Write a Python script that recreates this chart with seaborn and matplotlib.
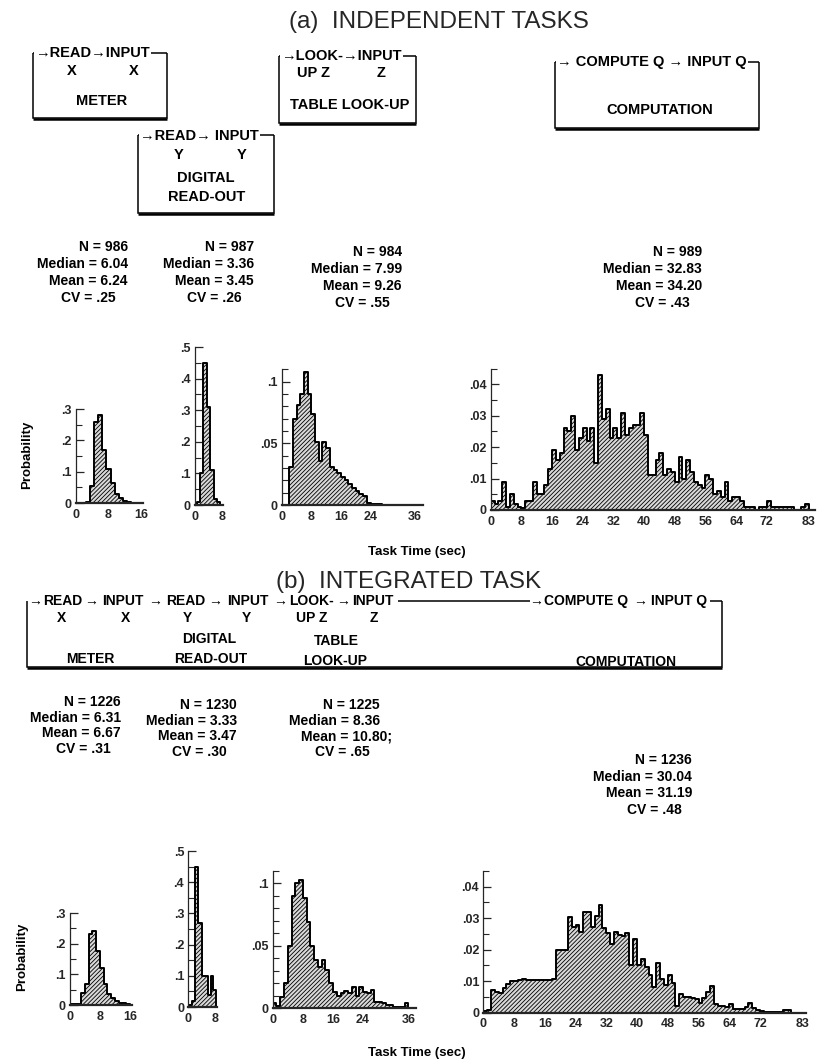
import numpy as np
import pandas as pd
import matplotlib
matplotlib.use("Agg")
import matplotlib.pyplot as plt
import seaborn as sns
from matplotlib.ticker import FixedLocator, MultipleLocator

sns.set_theme(style="ticks")
plt.rcParams["font.family"] = ["Liberation Sans", "DejaVu Sans"]
plt.rcParams["hatch.linewidth"] = 0.6
plt.rcParams["hatch.color"] = "black"

# ------------------------------------------------------------------ data
# probability per bin (1-s bins unless edges given)
a_meter_start = 2.5
a_meter = [0.004, 0.055, 0.26, 0.28, 0.17, 0.11, 0.065, 0.028, 0.016, 0.006, 0.002]
a_digital_start = 0.5
a_digital = [0.008, 0.10, 0.45, 0.31, 0.11, 0.02, 0.008]
a_table_start = 2
a_table = [0.031, 0.070, 0.081, 0.090, 0.108, 0.090, 0.074, 0.051, 0.036, 0.051,
           0.046, 0.031, 0.028, 0.026, 0.023, 0.020, 0.017, 0.014, 0.011, 0.009,
           0.007, 0.002, 0.001, 0.001, 0.001]
a_comp_start = 0
a_comp = [0.003, 0.002, 0.003, 0.009, 0.001, 0.005, 0.002, 0.001, 0.0005, 0.003,
          0.003, 0.009, 0.005, 0.005, 0.008, 0.013, 0.019, 0.016, 0.018, 0.026,
          0.025, 0.030, 0.019, 0.023, 0.026, 0.022, 0.026, 0.015, 0.043, 0.029,
          0.032, 0.023, 0.026, 0.023, 0.031, 0.024, 0.026, 0.027, 0.027, 0.031,
          0.024, 0.011, 0.011, 0.016, 0.018, 0.011, 0.013, 0.012, 0.009, 0.017,
          0.010, 0.016, 0.012, 0.009, 0.008, 0.007, 0.011, 0.010, 0.005, 0.006,
          0.004, 0.009, 0.003, 0.004, 0.004, 0.003, 0.001, 0.001, 0.001, 0.0,
          0.001, 0.001, 0.003, 0.001, 0.001, 0.001, 0.001, 0.001, 0.001, 0.0,
          0.0, 0.001, 0.002]

b_meter_start = 0
b_meter = [0.002, 0.002, 0.003, 0.04, 0.07, 0.23, 0.24, 0.175, 0.12, 0.07,
           0.035, 0.022, 0.012, 0.008, 0.005, 0.003]
b_digital_edges = [0, 1, 2, 3, 4, 5, 6, 6.7, 7.3, 8.3]
b_digital = [0.005, 0.02, 0.45, 0.27, 0.10, 0.10, 0.04, 0.10, 0.055]
b_table_start = 0
b_table = [0.004, 0.002, 0.009, 0.020, 0.050, 0.090, 0.100, 0.103, 0.088, 0.069,
           0.050, 0.039, 0.033, 0.039, 0.031, 0.020, 0.013, 0.010, 0.012, 0.014,
           0.012, 0.017, 0.010, 0.017, 0.013, 0.012, 0.015, 0.005, 0.005, 0.004,
           0.003, 0.003, 0.001, 0.001, 0.001, 0.004]
b_comp_start = 0
b_comp = [0.0005, 0.001, 0.0072, 0.0065, 0.0063, 0.0077, 0.0090, 0.0100, 0.0102, 0.0104,
          0.0106, 0.0104, 0.0105, 0.0103, 0.0104, 0.0104, 0.0103, 0.0105, 0.0106, 0.0199,
          0.0199, 0.0200, 0.0303, 0.0273, 0.0280, 0.0257, 0.0320, 0.0320, 0.0273, 0.0307,
          0.0342, 0.0268, 0.0252, 0.0218, 0.0255, 0.0247, 0.0243, 0.0252, 0.0151, 0.0233,
          0.0151, 0.0169, 0.0146, 0.0120, 0.0083, 0.0159, 0.0106, 0.0088, 0.0120, 0.0095,
          0.0021, 0.0059, 0.0051, 0.0050, 0.0048, 0.0042, 0.0032, 0.0046, 0.0067, 0.0085,
          0.0028, 0.0021, 0.0021, 0.0017, 0.0028, 0.0011, 0.0012, 0.0011, 0.0019, 0.0032,
          0.0014, 0.0008, 0.0005, 0.0002, 0.0002, 0.0002, 0.0002, 0.0002, 0.0010, 0.0010,
          0.0, 0.0, 0.0]

a_stats = [["N = 986", "Median = 6.04", "Mean = 6.24", "CV = .25"],
           ["N = 987", "Median = 3.36", "Mean = 3.45", "CV = .26"],
           ["N = 984", "Median = 7.99", "Mean = 9.26", "CV = .55"],
           ["N = 989", "Median = 32.83", "Mean = 34.20", "CV = .43"]]
b_stats = [["N = 1226", "Median = 6.31", "Mean = 6.67", "CV = .31"],
           ["N = 1230", "Median = 3.33", "Mean = 3.47", "CV = .30"],
           ["N = 1225", "Median = 8.36", "Mean = 10.80;", "CV = .65"],
           ["N = 1236", "Median = 30.04", "Mean = 31.19", "CV = .48"]]

ticks_small_y = [0, 0.1, 0.2, 0.3]
ticks_dig_y = [0, 0.1, 0.2, 0.3, 0.4, 0.5]
ticks_table_y = [0, 0.05, 0.1]
ticks_comp_y = [0, 0.01, 0.02, 0.03, 0.04]
ticks_meter_x = [0, 8, 16]
ticks_dig_x = [0, 8]
ticks_table_x = [0, 8, 16, 24, 36]
ticks_comp_x = [0, 8, 16, 24, 32, 40, 48, 56, 64, 72, 83]

# ------------------------------------------------------------------ figure
W, H = 829, 1060
fig = plt.figure(figsize=(W / 100, H / 100), dpi=100)
ov = fig.add_axes([0, 0, 1, 1])
ov.set_xlim(0, W)
ov.set_ylim(H, 0)
ov.axis("off")

BOLD = dict(fontweight="bold", color="black")
TICKFS = 9


def ylab(v):
    if v == 0:
        return "0"
    s = ("%.2f" % v).rstrip("0")
    return s[1:] if s.startswith("0") else s


def panel(x0, xa, xv, y0, ya, yv, xmax, ymax, vals, start=None, edges=None,
          yticks=(), ytick_minor=0.05, xticks=()):
    sx = (xa - x0) / xv
    sy = (y0 - ya) / yv
    left, right = x0, x0 + xmax * sx
    top = y0 - ymax * sy
    ax = fig.add_axes([left / W, 1 - y0 / H, (right - left) / W, (y0 - top) / H])
    if edges is None:
        edges = [float(start + i) for i in range(len(vals) + 1)]
    edges = [float(e) for e in edges]
    centers = [(edges[i] + edges[i + 1]) / 2 for i in range(len(vals))]
    df = pd.DataFrame({"t": centers, "p": [float(v) for v in vals]})
    sns.histplot(data=df, x="t", weights="p", bins=edges, element="step", fill=True,
                 stat="count", ax=ax, color="black", alpha=1, linewidth=1.3)
    for c in ax.collections:
        c.set_facecolor("#d9d9d9")
        c.set_edgecolor("black")
        c.set_hatch("////////")
        c.set_linewidth(1.4)
    ax.set_xlim(0, xmax)
    ax.set_ylim(0, ymax)
    ax.set_xlabel("")
    ax.set_ylabel("")
    for s in ("top", "right"):
        ax.spines[s].set_visible(False)
    ax.spines["left"].set_linewidth(0.9)
    ax.spines["bottom"].set_linewidth(1.6)
    ax.patch.set_alpha(0)
    ax.yaxis.set_major_locator(FixedLocator(list(yticks)))
    ax.yaxis.set_minor_locator(MultipleLocator(ytick_minor))
    ax.set_yticklabels([ylab(v) for v in yticks], fontsize=TICKFS, fontweight="bold")
    ax.xaxis.set_major_locator(FixedLocator(list(xticks)))
    ax.set_xticklabels([str(v) for v in xticks], fontsize=TICKFS, fontweight="bold")
    ax.tick_params(axis="y", which="major", direction="in", length=6, width=0.9, pad=3)
    ax.tick_params(axis="y", which="minor", direction="in", length=4, width=0.8)
    ax.tick_params(axis="x", which="both", length=0, pad=4)
    ax.grid(False)
    return ax


# (a) panels
panel(76, 141, 16, 503, 409, 0.3, 16.6, 0.3, a_meter, start=a_meter_start,
      yticks=ticks_small_y, ytick_minor=0.05, xticks=ticks_meter_x)
panel(195, 222, 8, 505, 347, 0.5, 8.3, 0.5, a_digital, start=a_digital_start,
      yticks=ticks_dig_y, ytick_minor=0.05, xticks=ticks_dig_x)
panel(281.7, 415, 36, 505, 443.3, 0.05, 38.2, 0.11, a_table, start=a_table_start,
      yticks=ticks_table_y, ytick_minor=0.01, xticks=ticks_table_x)
panel(490.7, 809, 83, 510, 384.3, 0.04, 84.5, 0.045, a_comp, start=a_comp_start,
      yticks=ticks_comp_y, ytick_minor=0.005, xticks=ticks_comp_x)

# (b) panels
panel(70, 130, 16, 1005, 913, 0.3, 16.6, 0.3, b_meter, start=b_meter_start,
      yticks=ticks_small_y, ytick_minor=0.05, xticks=ticks_meter_x)
panel(188.3, 215, 8, 1007, 851, 0.5, 8.5, 0.5, b_digital, edges=b_digital_edges,
      yticks=ticks_dig_y, ytick_minor=0.05, xticks=ticks_dig_x)
panel(272.7, 408.3, 36, 1008.3, 883.3, 0.1, 38, 0.11, b_table, start=b_table_start,
      yticks=ticks_table_y, ytick_minor=0.01, xticks=ticks_table_x)
panel(483.3, 760, 72, 1012.7, 886.7, 0.04, 84, 0.045, b_comp, start=b_comp_start,
      yticks=ticks_comp_y, ytick_minor=0.005, xticks=ticks_comp_x)

# ------------------------------------------------------------------ text & boxes
ov.text(289, 22, "(a)  INDEPENDENT TASKS", ha="left", va="center", fontsize=17.5)
ov.text(276, 582, "(b)  INTEGRATED TASK", ha="left", va="center", fontsize=17.5)

BOXFS = 10.5
WB = dict(facecolor="white", edgecolor="none", pad=1.0)


def line(xs, ys, lw=1.1):
    ov.plot(xs, ys, color="black", lw=lw, solid_joinstyle="miter",
            solid_capstyle="butt", zorder=1)


def box(x0, y0, x1, y1, top=True):
    if top:
        line([x0, x1], [y0, y0])
    line([x0, x0, x1, x1], [y0, y1, y1, y0])
    line([x0, x1], [y1 + 0.5, y1 + 0.5], lw=1.8)


def t(x, y, s, ha="center", fs=BOXFS, bg=False, **kw):
    return ov.text(x, y, s, ha=ha, va="center", fontsize=fs, zorder=3,
                   bbox=WB if bg else None, **BOLD, **kw)


box(33, 53, 167, 118)
t(35, 53, "\u2192READ\u2192INPUT", ha="left", bg=True)
t(72, 71, "X"); t(134, 71, "X")
t(102, 101, "METER")

box(279, 56, 416, 123)
t(281, 56, "\u2192LOOK-\u2192INPUT", ha="left", bg=True)
t(314, 73, "UP Z"); t(381, 73, "Z")
t(350, 105, "TABLE LOOK-UP")

box(555, 62, 759, 128)
t(557, 62, "\u2192 COMPUTE Q \u2192 INPUT Q", ha="left", bg=True)
t(660, 110, "COMPUTATION")

box(138, 135, 274, 213)
t(140, 136, "\u2192READ\u2192 INPUT", ha="left", bg=True)
t(179, 155, "Y"); t(242, 155, "Y")
t(206, 178, "DIGITAL")
t(207, 197, "READ-OUT")

# (b) integrated task flow box
box(27, 601, 722, 667, top=False)
line([398, 530], [601, 601])
line([710, 722], [601, 601])
BFS = 10
for x, s in [(28, "\u2192"), (43, "READ"), (84, "\u2192"), (102, "INPUT"),
             (148, "\u2192"), (166, "READ"), (208, "\u2192"), (227, "INPUT"),
             (273, "\u2192"), (289, "LOOK-"), (336, "\u2192"), (352, "INPUT"),
             (529, "\u2192"), (544, "COMPUTE Q"), (633, "\u2192"), (651, "INPUT Q")]:
    t(x, 601, s, ha="left", fs=BFS)
for x, s in [(62, "X"), (126, "X"), (187, "Y"), (246, "Y"), (312, "UP Z"), (374, "Z")]:
    t(x, 618, s, fs=BFS)
t(209, 639, "DIGITAL", fs=BFS); t(336, 641, "TABLE", fs=BFS)
t(90, 659, "METER", fs=BFS); t(211, 659, "READ-OUT", fs=BFS)
t(335, 661, "LOOK-UP", fs=BFS)
t(626, 662, "COMPUTATION", fs=BFS)

STATFS = 10
for R, y0, lines in zip([128, 254, 402, 702], [247, 247, 252, 252], a_stats):
    for i, s in enumerate(lines[:3]):
        t(R, y0 + i * 17, s, ha="right", fs=STATFS)
    t(R - 40, y0 + 3 * 17, lines[3], fs=STATFS)
for R, y0, lines in zip([121, 237, 380, 692], [702, 705, 705, 760], b_stats):
    sp = 16.7 if y0 == 760 else 15.7
    for i, s in enumerate(lines[:3]):
        t(R + (12 if s.endswith(";") else 0), y0 + i * sp, s, ha="right", fs=STATFS)
    t(R - 38, y0 + 3 * sp, lines[3], fs=STATFS)

t(27, 455, "Probability", fs=9.5, rotation=90)
t(22, 957, "Probability", fs=9.5, rotation=90)
t(417, 552, "Task Time (sec)", fs=9.5)
t(417, 1053, "Task Time (sec)", fs=9.5)

fig.savefig("out.png", dpi=100)
